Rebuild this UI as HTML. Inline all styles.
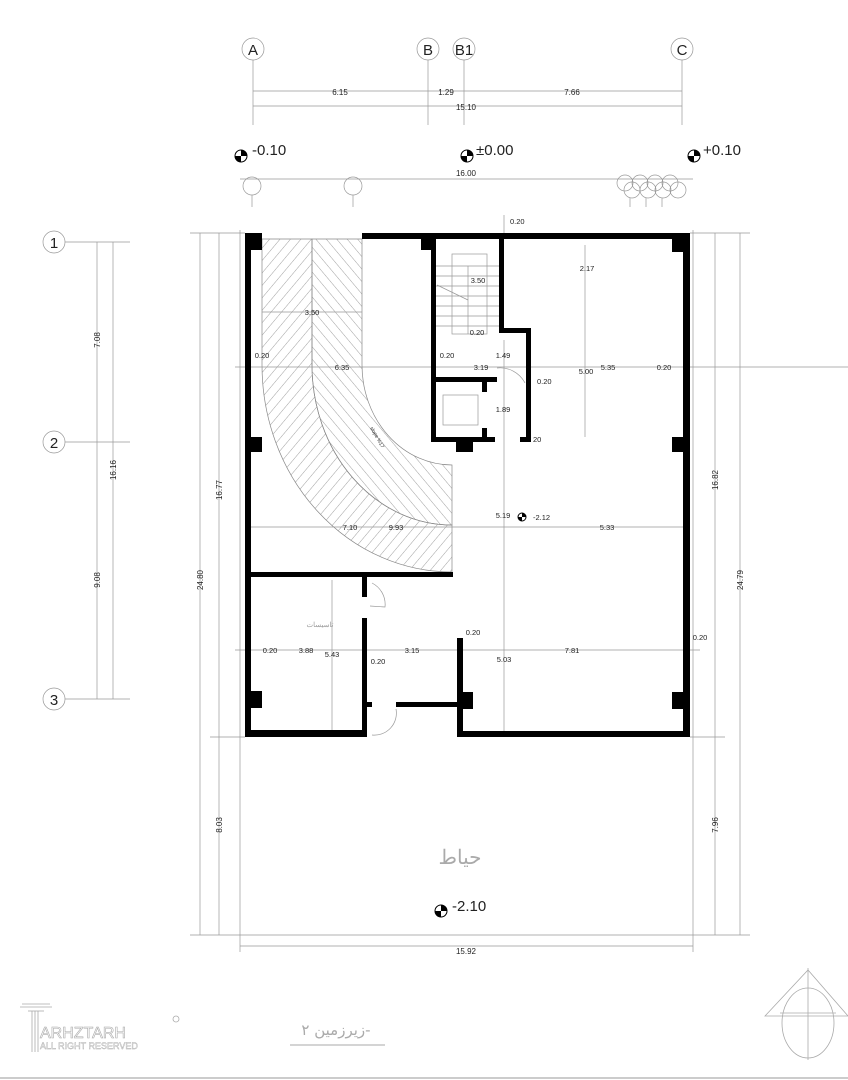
<!DOCTYPE html>
<html><head><meta charset="utf-8"><style>
html,body{margin:0;padding:0;background:#fff;}
svg{display:block;}
.t{stroke:#999;stroke-width:0.7;fill:none;}
.w{fill:#000;}
</style></head><body>
<svg width="848" height="1080" viewBox="0 0 848 1080" xmlns="http://www.w3.org/2000/svg" font-family="Liberation Sans, sans-serif" font-size="8" fill="#222">
<defs>
<pattern id="h" width="8" height="8" patternUnits="userSpaceOnUse" patternTransform="rotate(40)">
<line x1="0" y1="0" x2="0" y2="8" stroke="#888" stroke-width="0.8"/>
</pattern>
<pattern id="h2" width="8" height="8" patternUnits="userSpaceOnUse" patternTransform="rotate(-40)">
<line x1="0" y1="0" x2="0" y2="8" stroke="#888" stroke-width="0.8"/>
</pattern>
</defs>

<!-- top axes -->
<g class="t">
<line x1="253" y1="60" x2="253" y2="125"/><line x1="428" y1="60" x2="428" y2="125"/>
<line x1="464" y1="60" x2="464" y2="125"/><line x1="682" y1="60" x2="682" y2="125"/>
<line x1="253" y1="91" x2="682" y2="91"/><line x1="253" y1="106" x2="682" y2="106"/>
<circle cx="253" cy="49" r="11"/><circle cx="428" cy="49" r="11"/>
<circle cx="464" cy="49" r="11"/><circle cx="682" cy="49" r="11"/>
<line x1="240" y1="179" x2="693" y2="179"/>
</g>
<text x="253" y="55" text-anchor="middle" font-size="15">A</text>
<text x="428" y="55" text-anchor="middle" font-size="15">B</text>
<text x="464" y="55" text-anchor="middle" font-size="15">B1</text>
<text x="682" y="55" text-anchor="middle" font-size="15">C</text>
<text x="340" y="95" text-anchor="middle">6.15</text>
<text x="446" y="95" text-anchor="middle">1.29</text>
<text x="572" y="95" text-anchor="middle">7.66</text>
<text x="466" y="110" text-anchor="middle">15.10</text>
<text x="466" y="176" text-anchor="middle">16.00</text>

<!-- level markers -->
<g fill="#000">
<circle cx="241" cy="156" r="6" fill="#fff" stroke="#000"/><path d="M241 150 A6 6 0 0 1 247 156 L241 156Z M241 162 A6 6 0 0 1 235 156 L241 156Z"/>
<circle cx="467" cy="156" r="6" fill="#fff" stroke="#000"/><path d="M467 150 A6 6 0 0 1 473 156 L467 156Z M467 162 A6 6 0 0 1 461 156 L467 156Z"/>
<circle cx="694" cy="156" r="6" fill="#fff" stroke="#000"/><path d="M694 150 A6 6 0 0 1 700 156 L694 156Z M694 162 A6 6 0 0 1 688 156 L694 156Z"/>
<circle cx="441" cy="911" r="6" fill="#fff" stroke="#000"/><path d="M441 905 A6 6 0 0 1 447 911 L441 911Z M441 917 A6 6 0 0 1 435 911 L441 911Z"/>
<circle cx="522" cy="517" r="4" fill="#fff" stroke="#000"/><path d="M522 513 A4 4 0 0 1 526 517 L522 517Z M522 521 A4 4 0 0 1 518 517 L522 517Z"/>
</g>
<text x="252" y="155" font-size="15">-0.10</text>
<text x="476" y="155" font-size="15">±0.00</text>
<text x="703" y="155" font-size="15">+0.10</text>
<text x="452" y="911" font-size="15">-2.10</text>

<!-- trees -->
<g class="t">
<circle cx="252" cy="186" r="9"/><line x1="252" y1="195" x2="252" y2="207"/>
<circle cx="353" cy="186" r="9"/><line x1="353" y1="195" x2="353" y2="207"/>
<circle cx="625" cy="183" r="8"/><circle cx="640" cy="183" r="8"/><circle cx="655" cy="183" r="8"/><circle cx="670" cy="183" r="8"/>
<circle cx="632" cy="190" r="8"/><circle cx="648" cy="190" r="8"/><circle cx="663" cy="190" r="8"/><circle cx="678" cy="190" r="8"/>
<line x1="630" y1="198" x2="630" y2="207"/><line x1="646" y1="198" x2="646" y2="207"/><line x1="662" y1="198" x2="662" y2="207"/>
</g>

<!-- left axes -->
<g class="t">
<circle cx="54" cy="242" r="11"/><circle cx="54" cy="442" r="11"/><circle cx="54" cy="699" r="11"/>
<line x1="65" y1="242" x2="130" y2="242"/><line x1="65" y1="442" x2="130" y2="442"/><line x1="65" y1="699" x2="130" y2="699"/>
<line x1="97" y1="242" x2="97" y2="699"/><line x1="113" y1="242" x2="113" y2="699"/>
<line x1="200" y1="233" x2="200" y2="935"/><line x1="219" y1="233" x2="219" y2="935"/>
<line x1="190" y1="233" x2="245" y2="233"/><line x1="190" y1="935" x2="240" y2="935"/><line x1="210" y1="737" x2="245" y2="737"/>
<line x1="715" y1="233" x2="715" y2="935"/><line x1="740" y1="233" x2="740" y2="935"/>
<line x1="690" y1="233" x2="750" y2="233"/><line x1="693" y1="935" x2="750" y2="935"/><line x1="690" y1="737" x2="725" y2="737"/>
<line x1="240" y1="946" x2="693" y2="946"/>
<line x1="240" y1="230" x2="240" y2="952"/><line x1="693" y1="230" x2="693" y2="952"/>
<line x1="240" y1="935" x2="693" y2="935"/>
</g>
<text x="54" y="248" text-anchor="middle" font-size="15">1</text>
<text x="54" y="448" text-anchor="middle" font-size="15">2</text>
<text x="54" y="705" text-anchor="middle" font-size="15">3</text>
<text transform="translate(100,340) rotate(-90)" text-anchor="middle">7.08</text>
<text transform="translate(116,470) rotate(-90)" text-anchor="middle">16.16</text>
<text transform="translate(100,580) rotate(-90)" text-anchor="middle">9.08</text>
<text transform="translate(203,580) rotate(-90)" text-anchor="middle">24.80</text>
<text transform="translate(222,490) rotate(-90)" text-anchor="middle">16.77</text>
<text transform="translate(222,825) rotate(-90)" text-anchor="middle">8.03</text>
<text transform="translate(718,480) rotate(-90)" text-anchor="middle">16.82</text>
<text transform="translate(718,825) rotate(-90)" text-anchor="middle">7.96</text>
<text transform="translate(743,580) rotate(-90)" text-anchor="middle">24.79</text>
<text x="466" y="954" text-anchor="middle">15.92</text>

<!-- ramp -->
<path d="M262 239 L312 239 L312 365 A140 160 0 0 0 452 525 L452 572 A190 207 0 0 1 262 365 Z" fill="url(#h)" stroke="#888" stroke-width="0.7"/>
<path d="M312 239 L362 239 L362 365 A90 100 0 0 0 452 465 L452 525 A140 160 0 0 1 312 365 Z" fill="url(#h2)" stroke="#888" stroke-width="0.7"/>

<!-- inner dimension lines -->
<g class="t">
<line x1="235" y1="367" x2="848" y2="367"/>
<line x1="251" y1="527" x2="683" y2="527"/>
<line x1="235" y1="650" x2="700" y2="650"/>
<line x1="585" y1="245" x2="585" y2="437"/>
<line x1="504" y1="340" x2="504" y2="732"/>
<line x1="332" y1="580" x2="332" y2="730"/>
<line x1="262" y1="312" x2="362" y2="312"/>
<line x1="504" y1="215" x2="504" y2="233"/>
</g>
<!-- stairs -->
<g class="t">
<rect x="452" y="254" width="35" height="80"/>
<line x1="436" y1="266" x2="499" y2="266"/><line x1="436" y1="276" x2="499" y2="276"/><line x1="436" y1="286" x2="499" y2="286"/>
<line x1="436" y1="296" x2="499" y2="296"/><line x1="436" y1="306" x2="499" y2="306"/><line x1="436" y1="316" x2="499" y2="316"/>
<line x1="436" y1="326" x2="499" y2="326"/><line x1="468" y1="266" x2="468" y2="334"/>
<line x1="437" y1="285" x2="468" y2="300"/>
<rect x="443" y="395" width="35" height="30"/>
<path d="M497 368 A28 28 0 0 1 525 383"/>
<path d="M372 583 A24 24 0 0 1 385 607 L370 606"/>
<path d="M372 735 A22 22 0 0 0 396 709"/>
</g>

<!-- walls -->
<g class="w">
<rect x="245" y="233" width="6" height="504"/>
<rect x="245" y="233" width="17" height="17"/>
<rect x="362" y="233" width="328" height="6"/>
<rect x="683" y="233" width="7" height="504"/>
<rect x="672" y="239" width="11" height="13"/>
<rect x="421" y="239" width="15" height="11"/>
<rect x="431" y="239" width="5" height="203"/>
<rect x="499" y="239" width="5" height="94"/>
<rect x="499" y="328" width="32" height="5"/>
<rect x="526" y="328" width="5" height="114"/>
<rect x="431" y="377" width="66" height="5"/>
<rect x="482" y="382" width="5" height="10"/>
<rect x="482" y="428" width="5" height="10"/>
<rect x="431" y="437" width="64" height="5"/>
<rect x="520" y="437" width="11" height="5"/>
<rect x="456" y="440" width="17" height="12"/>
<rect x="251" y="437" width="11" height="15"/>
<rect x="672" y="437" width="11" height="15"/>
<rect x="245" y="572" width="208" height="5"/>
<rect x="362" y="577" width="5" height="20"/>
<rect x="362" y="618" width="5" height="119"/>
<rect x="367" y="702" width="5" height="5"/>
<rect x="396" y="702" width="62" height="5"/>
<rect x="245" y="730" width="122" height="7"/>
<rect x="251" y="691" width="11" height="17"/>
<rect x="457" y="638" width="6" height="99"/>
<rect x="457" y="731" width="233" height="6"/>
<rect x="463" y="692" width="10" height="17"/>
<rect x="672" y="692" width="11" height="17"/>
</g>

<!-- inner labels -->
<g font-size="7.5">
<text x="510" y="224">0.20</text>
<text x="312" y="315" text-anchor="middle">3.50</text>
<text x="262" y="358" text-anchor="middle">0.20</text>
<text x="342" y="370" text-anchor="middle">6.35</text>
<text x="478" y="283" text-anchor="middle">3.50</text>
<text x="477" y="335" text-anchor="middle">0.20</text>
<text x="447" y="358" text-anchor="middle">0.20</text>
<text x="503" y="358" text-anchor="middle">1.49</text>
<text x="481" y="370" text-anchor="middle">3.19</text>
<text x="537" y="384">0.20</text>
<text x="503" y="412" text-anchor="middle">1.89</text>
<text x="533" y="442">20</text>
<text x="587" y="271" text-anchor="middle">2.17</text>
<text x="586" y="374" text-anchor="middle">5.00</text>
<text x="608" y="370" text-anchor="middle">5.35</text>
<text x="664" y="370" text-anchor="middle">0.20</text>
<text x="350" y="530" text-anchor="middle">7.10</text>
<text x="396" y="530" text-anchor="middle">9.93</text>
<text x="503" y="518" text-anchor="middle">5.19</text>
<text x="533" y="520">-2.12</text>
<text x="607" y="530" text-anchor="middle">5.33</text>
<text x="270" y="653" text-anchor="middle">0.20</text>
<text x="306" y="653" text-anchor="middle">3.88</text>
<text x="332" y="657" text-anchor="middle">5.43</text>
<text x="378" y="664" text-anchor="middle">0.20</text>
<text x="412" y="653" text-anchor="middle">3.15</text>
<text x="473" y="635" text-anchor="middle">0.20</text>
<text x="504" y="662" text-anchor="middle">5.03</text>
<text x="572" y="653" text-anchor="middle">7.81</text>
<text x="700" y="640" text-anchor="middle">0.20</text>
</g>
<text transform="translate(370,428) rotate(60)" font-size="5">slope %17</text>
<text x="320" y="627" text-anchor="middle" font-size="7" fill="#999" font-family="Noto Sans CJK SC, sans-serif">تاسیسات</text>
<text x="460" y="864" text-anchor="middle" font-size="20" fill="#aaa" font-family="DejaVu Serif, serif">حیاط</text>

<!-- title -->
<text x="336" y="1035" text-anchor="middle" font-size="15" fill="#aaa" font-family="DejaVu Sans, sans-serif">زیرزمین ۲-</text>
<line x1="290" y1="1045" x2="385" y2="1045" stroke="#aaa" stroke-width="1"/>

<!-- logo -->
<g stroke="#aaa" fill="none" stroke-width="0.8">
<line x1="22" y1="1004" x2="50" y2="1004"/><line x1="20" y1="1007" x2="52" y2="1007"/>
<line x1="28" y1="1011" x2="44" y2="1011"/>
<line x1="32" y1="1011" x2="32" y2="1052"/><line x1="35" y1="1011" x2="35" y2="1052"/><line x1="38" y1="1011" x2="38" y2="1052"/>
<circle cx="176" cy="1019" r="3"/>
</g>
<text x="40" y="1038" font-size="16" fill="#fff" stroke="#aaa" stroke-width="0.6">ARHZTARH</text>
<text x="40" y="1049" font-size="9" fill="#fff" stroke="#aaa" stroke-width="0.4">ALL RIGHT RESERVED</text>

<!-- north arrow -->
<g stroke="#aaa" fill="none" stroke-width="0.8">
<ellipse cx="808" cy="1023" rx="26" ry="35"/>
<line x1="808" y1="968" x2="808" y2="1060"/>
<line x1="780" y1="1013" x2="836" y2="1013"/>
<path d="M765 1016 L808 970 L848 1016 Z"/>
</g>
<line x1="0" y1="1078" x2="848" y2="1078" stroke="#ccc" stroke-width="2"/>
</svg>
</body></html>
